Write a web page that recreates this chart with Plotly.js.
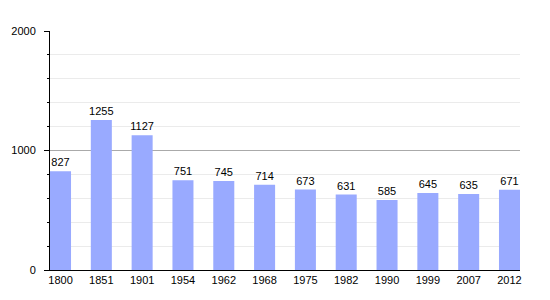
<!DOCTYPE html>
<html><head><meta charset="utf-8">
<script src="https://cdn.plot.ly/plotly-3.0.1.min.js"></script>
<style>body{margin:0;background:#fff}#c{width:550px;height:300px}</style>
</head><body><div id="c"></div>
<script>
const years = ['1800','1851','1901','1954','1962','1968','1975','1982','1990','1999','2007','2012'];
const population = [827,1255,1127,751,745,714,673,631,585,645,635,671];

const bw = 0.515;
Plotly.newPlot('c', [{
  type: 'bar', x: years, y: population, width: bw,
  marker: {color: '#99aaff'},
  text: population.map(String), textposition: 'outside', cliponaxis: false, constraintext: 'none',
  textfont: {family: 'Liberation Sans, Arial, sans-serif', size: 11, color: '#000'},
  hoverinfo: 'none'
}], {
  width: 550, height: 300,
  margin: {l: 50, r: 30, t: 31, b: 30},
  paper_bgcolor: '#fff', plot_bgcolor: '#fff',
  showlegend: false,
  font: {family: 'Liberation Sans, Arial, sans-serif', size: 11, color: '#000'},
  xaxis: {type: 'category', range: [-bw/2, years.length - 1 + bw/2], showline: true, linecolor: '#000', linewidth: 1,
    ticks: '', showgrid: false, zeroline: false, tickfont: {size: 11}},
  yaxis: {range: [0, 2000], dtick: 1000, tick0: 0, showline: true, linecolor: '#000', linewidth: 1,
    ticks: 'outside', ticklen: 5, tickcolor: '#000', showgrid: true, gridcolor: '#aaaaaa', zeroline: false,
    ticklabelstandoff: 6,
    minor: {dtick: 200, showgrid: true, gridcolor: '#ebebeb', ticks: 'outside', ticklen: 2, tickcolor: '#000'}}
}, {displayModeBar: false, staticPlot: true});
</script></body></html>
